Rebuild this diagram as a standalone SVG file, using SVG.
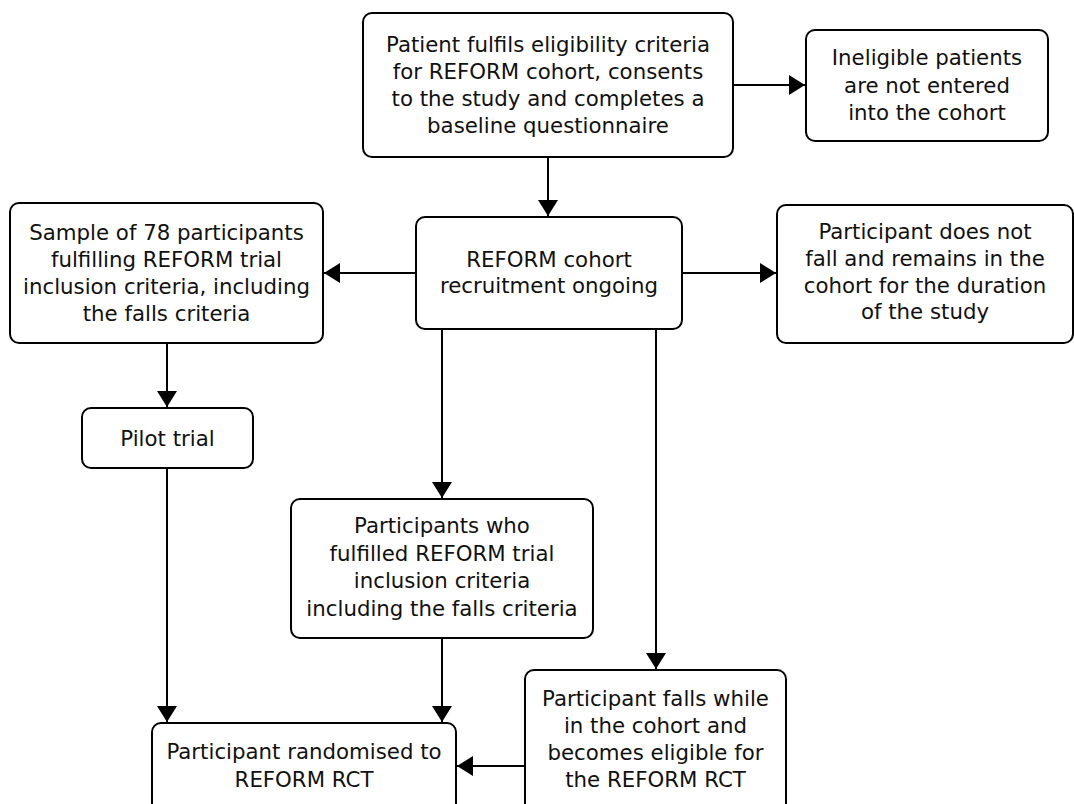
<svg xmlns="http://www.w3.org/2000/svg" width="1074" height="804" viewBox="0 0 1074 804">
  <style>
    .box { fill: #ffffff; stroke: #000000; stroke-width: 2; }
    .lbl { font-family: "DejaVu Sans", "Liberation Sans", sans-serif; font-size: 21.3px; fill: #111111; text-anchor: middle; }
    .conn { fill: none; stroke: #000000; stroke-width: 2; }
  </style>
  <defs>
    <marker id="arrow" markerUnits="userSpaceOnUse" markerWidth="17" markerHeight="20" refX="16" refY="10" orient="auto">
      <path d="M0,0 L16,10 L0,20 Z" fill="#000000"/>
    </marker>
  </defs>
  <rect width="1074" height="804" fill="#ffffff"/>

  <g id="connectors">
    <line class="conn" x1="733" y1="85" x2="805" y2="85" marker-end="url(#arrow)"/>
    <line class="conn" x1="548" y1="157" x2="548" y2="216" marker-end="url(#arrow)"/>
    <line class="conn" x1="416" y1="273" x2="324" y2="273" marker-end="url(#arrow)"/>
    <line class="conn" x1="682" y1="273" x2="776" y2="273" marker-end="url(#arrow)"/>
    <line class="conn" x1="167" y1="343" x2="167" y2="407" marker-end="url(#arrow)"/>
    <line class="conn" x1="442" y1="329" x2="442" y2="498" marker-end="url(#arrow)"/>
    <line class="conn" x1="656" y1="329" x2="656" y2="669" marker-end="url(#arrow)"/>
    <line class="conn" x1="167" y1="468" x2="167" y2="722" marker-end="url(#arrow)"/>
    <line class="conn" x1="442" y1="638" x2="442" y2="722" marker-end="url(#arrow)"/>
    <line class="conn" x1="525" y1="766" x2="457" y2="766" marker-end="url(#arrow)"/>
  </g>

  <g id="node-eligibility">
    <rect class="box" x="363" y="13" width="370" height="144" rx="9"/>
    <text class="lbl" x="548" y="52">Patient fulfils eligibility criteria</text>
    <text class="lbl" x="548" y="79">for REFORM cohort, consents</text>
    <text class="lbl" x="548" y="106">to the study and completes a</text>
    <text class="lbl" x="548" y="133">baseline questionnaire</text>
  </g>

  <g id="node-ineligible">
    <rect class="box" x="806" y="30" width="242" height="111" rx="9"/>
    <text class="lbl" x="927" y="65">Ineligible patients</text>
    <text class="lbl" x="927" y="93">are not entered</text>
    <text class="lbl" x="927" y="120">into the cohort</text>
  </g>

  <g id="node-cohort">
    <rect class="box" x="416" y="217" width="266" height="112" rx="9"/>
    <text class="lbl" x="549" y="267">REFORM cohort</text>
    <text class="lbl" x="549" y="293">recruitment ongoing</text>
  </g>

  <g id="node-sample">
    <rect class="box" x="10" y="203" width="313" height="140" rx="9"/>
    <text class="lbl" x="166.5" y="240">Sample of 78 participants</text>
    <text class="lbl" x="166.5" y="267">fulfilling REFORM trial</text>
    <text class="lbl" x="166.5" y="294">inclusion criteria, including</text>
    <text class="lbl" x="166.5" y="321">the falls criteria</text>
  </g>

  <g id="node-nofall">
    <rect class="box" x="777" y="205" width="296" height="138" rx="9"/>
    <text class="lbl" x="925" y="239">Participant does not</text>
    <text class="lbl" x="925" y="266">fall and remains in the</text>
    <text class="lbl" x="925" y="293">cohort for the duration</text>
    <text class="lbl" x="925" y="319">of the study</text>
  </g>

  <g id="node-pilot">
    <rect class="box" x="82" y="408" width="171" height="60" rx="9"/>
    <text class="lbl" x="167.5" y="446">Pilot trial</text>
  </g>

  <g id="node-fulfilled">
    <rect class="box" x="291" y="499" width="302" height="139" rx="9"/>
    <text class="lbl" x="442" y="533">Participants who</text>
    <text class="lbl" x="442" y="561">fulfilled REFORM trial</text>
    <text class="lbl" x="442" y="588">inclusion criteria</text>
    <text class="lbl" x="442" y="616">including the falls criteria</text>
  </g>

  <g id="node-falls">
    <rect class="box" x="525" y="670" width="261" height="150" rx="9"/>
    <text class="lbl" x="655.5" y="706">Participant falls while</text>
    <text class="lbl" x="655.5" y="733">in the cohort and</text>
    <text class="lbl" x="655.5" y="760">becomes eligible for</text>
    <text class="lbl" x="655.5" y="787">the REFORM RCT</text>
  </g>

  <g id="node-randomised">
    <rect class="box" x="152" y="723" width="304" height="100" rx="9"/>
    <text class="lbl" x="304" y="759">Participant randomised to</text>
    <text class="lbl" x="304" y="787">REFORM RCT</text>
  </g>
</svg>
